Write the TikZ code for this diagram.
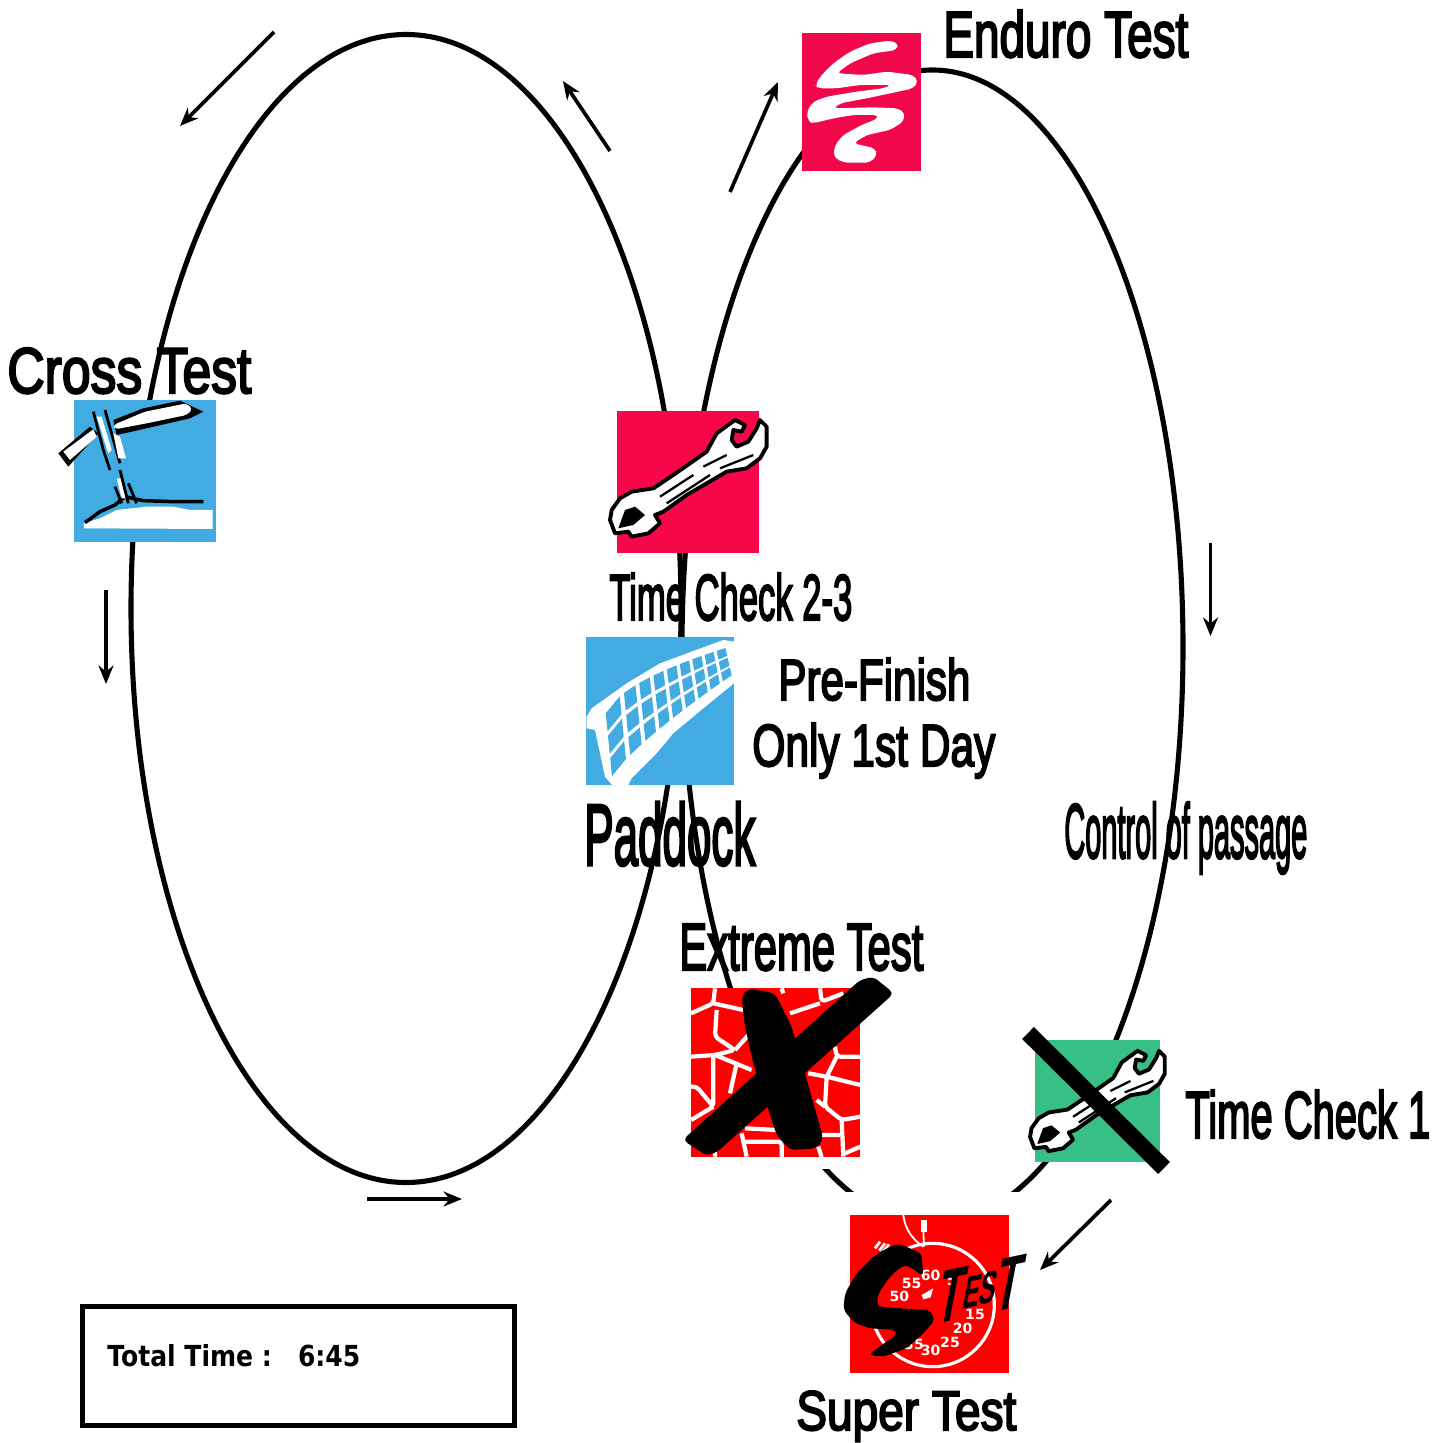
\documentclass[tikz,border=0pt]{standalone}
\usepackage{fontspec}
\usepackage{graphicx}
\usetikzlibrary{arrows.meta}
\usetikzlibrary{shapes.geometric}
\newfontfamily\lblfont[FakeBold=3.6]{Liberation Sans}
\newfontfamily\logofont{Liberation Sans Bold}
\newfontfamily\totalfont{DejaVu Sans}
\newcommand{\pxu}{0.02cm}
\newcommand{\lab}[3]{\pgfmathsetlengthmacro{\labw}{#1*0.02cm}\pgfmathsetlengthmacro{\labh}{#2*0.02cm}\resizebox{\labw}{\labh}{\lblfont #3}}
\definecolor{crimsonA}{HTML}{F8064A}
\definecolor{crimsonB}{HTML}{F0084B}
\definecolor{skyA}{HTML}{42ABE2}
\definecolor{greenA}{HTML}{38BF85}
\tikzset{track/.style={ellipse,draw=black,line width=2.9pt,inner sep=0pt,outer sep=0pt}}
\tikzset{iconbox/.style={rectangle,inner sep=0pt,outer sep=0pt,anchor=north west}}
\tikzset{flow/.style={line width=2.1pt,-{Stealth[length=10.5pt,width=8.5pt]}}}
\tikzset{dial/.style={text=white,font=\totalfont\bfseries\fontsize{8}{8}\selectfont,inner sep=0pt}}
\tikzset{spanner/.pic={
  \begin{scope}[scale=0.3333,shift={(-387,-228)}]
  \draw[fill=white,line width=2.2pt,line join=round] (600,60) -- (620,80) -- (620,140) -- (600,175) -- (560,205) -- (500,215) -- (440,250)
    -- (380,285) -- (310,335) -- (285,345) -- (300,370) -- (265,400) -- (215,410) -- (205,395) -- (165,400) -- (150,360)
    -- (155,330) -- (180,295) -- (215,275) -- (280,265) -- (340,225) -- (440,155) -- (470,100) -- (525,60) -- (555,75)
    -- (545,95) -- (520,90) -- (515,120) -- (530,140) -- (565,125) -- (590,85) -- cycle;
  \fill (195,330) -- (225,320) -- (255,345) -- (220,375) -- (175,385) -- cycle;
  \draw[line width=1.3pt] (300,290) -- (400,225) (430,200) -- (500,165) (320,310) -- (450,225) (480,205) -- (580,165);
  \end{scope}
}}

\begin{document}
\begin{tikzpicture}[x=0.02cm,y=-0.02cm]
\useasboundingbox[fill=white] (0,0) rectangle (1447,1443);

% two loops
\node[track,minimum width=550*\pxu,minimum height=1148*\pxu] (loopL) at (406,608.5) {};
\node[track,minimum width=501*\pxu,minimum height=1154*\pxu] (loopR) at (932.5,647) {};
\fill[white] (840,1192) rectangle (1030,1240);
\fill[white] (700,1150) rectangle (860,1169);

% enduro
\node[iconbox,fill=crimsonB,minimum width=119*\pxu,minimum height=138*\pxu] (enduro) at (802,33) {};
\begin{scope}[shift={(790,20)},scale=0.3333]
\fill[white,rounded corners=2.5pt] (325,70) -- (300,62) -- (240,70) -- (180,95) -- (130,130) -- (95,165) -- (75,195) -- (85,205) -- (140,205) -- (210,195)
  -- (305,195) -- (280,205) -- (200,215) -- (110,230) -- (70,245) -- (50,275) -- (55,305) -- (70,310) -- (130,295) -- (190,285)
  -- (265,285) -- (265,295) -- (215,315) -- (160,345) -- (135,375) -- (130,410) -- (160,428) -- (240,428) -- (262,405) -- (255,385)
  -- (190,370) -- (230,345) -- (300,330) -- (340,305) -- (345,280) -- (325,265) -- (250,262) -- (130,265) -- (150,250) -- (230,235)
  -- (310,218) -- (370,205) -- (385,185) -- (370,165) -- (290,155) -- (220,165) -- (140,160) -- (180,130) -- (250,100) -- (320,90) -- cycle;
\end{scope}

% cross
\node[iconbox,fill=skyA,minimum size=142*\pxu] (cross) at (74,400) {};
\begin{scope}[shift={(0,330)},scale=0.3333]
\fill[white] (252,595) -- (252,580) -- (300,565) -- (350,540) -- (440,530) -- (520,530) -- (570,540) -- (638,540) -- (638,597) -- cycle;
\draw[line width=2pt] (255,578) -- (300,545) -- (345,525) -- (375,500) (375,500) -- (430,512) -- (520,515) -- (610,515);
\fill[black] (340,270) -- (430,235) -- (540,212) -- (610,245) -- (570,265) -- (440,295) -- (350,315) -- cycle;
\fill[white,rounded corners=2pt] (340,285) -- (435,245) -- (560,220) -- (578,238) -- (560,255) -- (440,280) -- (345,298) -- cycle;
\fill[black] (175,370) -- (270,290) -- (295,310) -- (205,410) -- cycle;
\fill[white] (190,365) -- (280,298) -- (290,320) -- (210,390) -- cycle;
\draw[line width=1.6pt] (280,245) -- (310,360) -- (330,420) (315,240) -- (360,400);
\fill[white] (290,260) -- (305,260) -- (335,360) -- (325,370) -- cycle;
\fill[white] (340,310) -- (360,320) -- (378,385) -- (355,385) -- cycle;
\fill[white] (350,445) -- (365,445) -- (380,505) -- (365,505) -- cycle;
\draw[line width=1.6pt] (360,420) -- (385,520) (345,470) -- (365,520) (385,460) -- (410,520);
\end{scope}

% time check 2-3
\node[iconbox,fill=crimsonA,minimum size=142*\pxu] (spannerA) at (617,411) {};
\pic at (689,476) {spanner};

% net
\node[iconbox,fill=skyA,minimum size=148*\pxu] (net) at (586,637) {};
\begin{scope}[shift={(560,400)},scale=0.3333,
  declare function={nett(\s)=pow(\s,0.85); netx(\s,\v)=130+372*nett(\s)+20*\v; nety(\s,\v)=965-225*sqrt(nett(\s))+\v*(185+225*sqrt(nett(\s))-325*pow(nett(\s),0.8));}]
\fill[white] (80,950) -- (95,925) -- (200,850) -- (300,790) -- (490,720) -- (522,725) -- (522,850) -- (430,925) -- (340,1000)
  -- (290,1060) -- (215,1135) -- (205,1155) -- (165,1165) -- (135,1130) -- (105,990) -- (80,985) -- cycle;
\foreach \i in {0,...,8}
  {
  \foreach \j in {0,1,2}
    {
    \pgfmathsetmacro{\sa}{(\i+0.08)/9}
    \pgfmathsetmacro{\sb}{(\i+0.82)/9}
    \pgfmathsetmacro{\va}{(\j+0.08)/3}
    \pgfmathsetmacro{\vb}{(\j+0.88)/3}
    \fill[skyA] ({netx(\sa,\va)},{nety(\sa,\va)}) -- ({netx(\sb,\va)},{nety(\sb,\va)}) -- ({netx(\sb,\vb)},{nety(\sb,\vb)}) -- ({netx(\sa,\vb)},{nety(\sa,\vb)}) -- cycle;
    }
  }
\end{scope}

% extreme
\node[iconbox,fill=red,minimum size=169*\pxu] (extreme) at (691,988) {};
\begin{scope}[shift={(670,960)},scale=0.3333]
\draw[white,line width=2.4pt,line join=round,rounded corners=2pt] (135,85) -- (130,130) -- (63,160) (130,130) -- (220,150) (140,150) -- (135,230) -- (195,270) -- (135,285) -- (63,290)
  (195,270) -- (240,220) (135,285) -- (245,330) (200,310) -- (180,400) (130,290) -- (130,440) -- (80,380) -- (63,380) (130,440) -- (63,480)
  (335,85) -- (340,100) (450,85) -- (455,125) -- (520,100) (360,160) -- (450,130) (495,260) -- (500,290) -- (571,290)
  (500,290) -- (470,350) -- (571,375) (470,350) -- (415,340) (470,350) -- (465,440) -- (515,480) -- (571,470) (515,480) -- (520,590)
  (465,440) -- (440,420) (571,560) -- (525,580) (455,525) -- (510,525) (215,520) -- (230,590) (225,505) -- (320,510)
  (225,545) -- (335,545) -- (335,593) (445,560) -- (455,593) (130,480) -- (135,590);
\fill[rounded corners=3pt] (38,540) -- (110,587) -- (140,577) -- (672,100) -- (610,50) -- (570,60) -- cycle;
\fill[rounded corners=3pt] (215,110) -- (235,85) -- (315,100) -- (365,200) -- (460,535) -- (440,565) -- (360,570) -- (320,525) -- (250,310) -- (225,200) -- cycle;
\end{scope}

% time check 1
\node[iconbox,fill=greenA,minimum width=125*\pxu,minimum height=122*\pxu] (spannerB) at (1035,1040) {};
\pic[scale=0.86] at (1098,1099) {spanner};
\coordinate (barA) at (1028,1033);
\coordinate (barB) at (1164,1168);
\draw[line width=9.5pt] (barA) -- (barB);

% super test
\node[iconbox,fill=red,minimum width=159*\pxu,minimum height=158*\pxu] (watch) at (850,1215) {};
\begin{scope}[shift={(840,1210)},scale=0.3333]
\draw[white,line width=1.8pt] (278,285) circle (185);
\draw[white,line width=1pt] (190,15) .. controls (195,60) and (220,90) .. (250,110);
\fill[white] (243,30) rectangle (260,65);
\draw[white,line width=1pt] (250,60) -- (252,110);
\draw[white,line width=1.6pt] (105,115) -- (120,95) (118,122) -- (135,100) (130,125) -- (147,103);
\fill[white] (245,255) -- (280,235) -- (272,262) -- (250,268) -- cycle;
\node[dial] (d55) at (215,220) {55};
\node[dial] (d50) at (178,258) {50};
\node[dial] (d60) at (272,195) {60};
\node[dial] (d05) at (335,210) {5};
\node[dial] (d15) at (405,312) {15};
\node[dial] (d20) at (368,355) {20};
\node[dial] (d25) at (330,397) {25};
\node[dial] (d30) at (272,420) {30};
\node[dial] (d35) at (222,402) {35};
\fill[rounded corners=3pt] (175,100) -- (245,130) -- (250,200) -- (210,170) -- (190,165) -- (150,200) -- (115,250) -- (110,290) -- (180,295)
  -- (270,300) -- (285,330) -- (250,370) -- (200,415) -- (130,440) -- (85,435) -- (110,415) -- (170,375) -- (170,360) -- (90,355)
  -- (45,340) -- (10,300) -- (15,250) -- (50,190) -- (100,140) -- (140,115) -- cycle;
\end{scope}
\node[inner sep=0pt,anchor=base west,rotate=12,xslant=0.42] (stest) at (934,1325) {\resizebox{1.7cm}{1cm}{\logofont T\raisebox{0.25ex}{\scalebox{0.6}{ES}}T}};

% arrows
\foreach \i/\xa/\ya/\xb/\yb in {1/274/32/180/126,2/610/151/563/81,3/730/192/778/82,4/1210.5/543/1210.5/636,5/106/590/106/684,6/367/1199/462/1199,7/1111/1200/1040/1270}
  {
  \coordinate (from\i) at (\xa,\ya);
  \coordinate (to\i) at (\xb,\yb);
  \draw[flow] (from\i) -- (to\i);
  }

% labels, left end of the baseline
\foreach \nm/\x/\y/\w/\h/\txt in {enduro/943/57/245/47/Enduro Test,cross/7/393/244/45/Cross Test,checkA/609/620/243/47/Time Check 2-3,
  finish/778/700/192/42/Pre-Finish,day/752/766/243/43/Only 1st Day,paddock/584/865/171/63/Paddock,extreme/679/970/244/46/Extreme Test,
  passage/1064/858/243/56/Control of passage,checkB/1185/1138/245/48/Time Check 1,super/796/1430/220/39/Super Test}
  {
  \node[inner sep=0pt,anchor=base west] (lab\nm) at (\x,\y) {\lab{\w}{\h}{\txt}};
  }

% total box
\node[draw=black,line width=2.9pt,inner sep=0pt,anchor=north west,minimum width=432*\pxu,minimum height=119*\pxu] (total) at (80,1304) {};
\node[inner sep=0pt,anchor=base west] (totaltext) at (107,1366) {\resizebox{5.06cm}{0.44cm}{\totalfont\bfseries Total Time :\ \ \ 6:45}};

\end{tikzpicture}
\end{document}
